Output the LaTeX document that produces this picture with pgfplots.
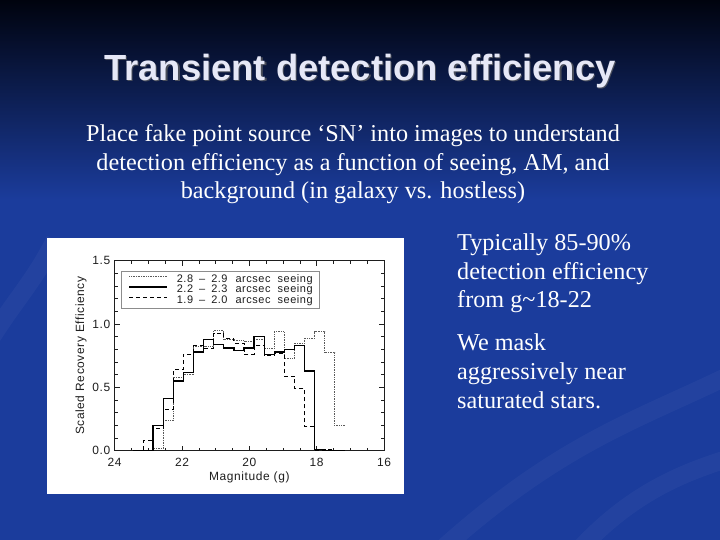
\documentclass[border=0pt]{standalone}
\usepackage{fontspec}
\setmainfont{Liberation Serif}
\newfontfamily\sansf{Liberation Sans}
\newfontfamily\plotf[LetterSpace=5]{Liberation Sans}
\usepackage{pgfplots}
\pgfplotsset{compat=1.18}
\definecolor{bgblue}{HTML}{1B3C9C}
\definecolor{bgtop}{HTML}{00030E}
\definecolor{titlecol}{HTML}{E6E8F7}
\definecolor{ink}{HTML}{1E1E1E}

\begin{document}
\begin{tikzpicture}
\useasboundingbox (0,0) rectangle (720bp,-540bp);
\shade[top color=bgtop, bottom color=bgblue] (0,0) rectangle (720bp,-200bp);
\fill[bgblue] (0,-200bp) rectangle (720bp,-540bp);
% subtle swirls
\begin{scope}
\clip (0,0) rectangle (720bp,-540bp);
\begin{scope}[white, opacity=0.035, line width=18bp]
\draw (430bp,-560bp) .. controls (560bp,-440bp) and (640bp,-420bp) .. (740bp,-370bp);
\draw (570bp,-560bp) .. controls (630bp,-490bp) and (690bp,-470bp) .. (740bp,-455bp);
\draw (-10bp,-340bp) .. controls (15bp,-300bp) and (35bp,-280bp) .. (55bp,-240bp);
\end{scope}
\end{scope}

% title
\node[anchor=base, text=black!60, opacity=0.7, font=\sansf\bfseries\fontsize{36.5}{43}\selectfont] at (361.2bp,-81.2bp) {Transient detection efficiency};
\node[anchor=base, text=titlecol, font=\sansf\bfseries\fontsize{36.5}{43}\selectfont] at (360bp,-80bp) {Transient detection efficiency};

% body text
\begin{scope}[every node/.style={anchor=base, text=white, font=\fontsize{24.3}{29}\selectfont, inner sep=0pt}]
\node at (353bp,-141bp) {Place fake point source ‘SN’ into images to understand};
\node at (353bp,-170bp) {detection efficiency as a function of seeing, AM, and};
\node at (353bp,-198bp) {background (in galaxy vs. hostless)};
\end{scope}
\begin{scope}[every node/.style={anchor=base west, text=white, font=\fontsize{24.3}{29}\selectfont, inner sep=0pt}]
\node at (457bp,-250bp) {Typically 85-90\%};
\node at (457bp,-279bp) {detection efficiency};
\node at (457bp,-307bp) {from g\char`\~18-22};
\node at (457bp,-350bp) {We mask};
\node at (457bp,-379bp) {aggressively near};
\node at (457bp,-408bp) {saturated stars.};
\end{scope}

% white panel
\fill[white] (47bp,-238bp) rectangle (404bp,-494bp);

\begin{axis}[
  at={(114.7bp,-450.7bp)}, anchor=south west,
  scale only axis, width=269.3bp, height=190bp,
  x dir=reverse, xmin=16, xmax=24, ymin=0, ymax=1.5,
  xtick={16,18,20,22,24}, ytick={0,0.5,1.0,1.5},
  minor x tick num=3, minor y tick num=4,
  tick align=inside,
  major tick length=5bp, minor tick length=3bp,
  every tick/.style={ink, line width=0.6pt},
  axis line style={ink, line width=0.8pt},
  /pgf/number format/assume math mode=true,
  yticklabel style={xshift=-1bp, /pgf/number format/.cd, fixed, fixed zerofill, precision=1},
  ticklabel style={font=\plotf\fontsize{12}{13}\selectfont, text=ink},
  xticklabel style={yshift=-4bp},
  xlabel={Magnitude (g)}, ylabel={Scaled Recovery Efficiency},
  label style={font=\plotf\fontsize{12}{13}\selectfont, text=ink},
  xlabel style={at={(axis description cs:0.5,-0.138)}, anchor=center},
  ylabel style={at={(axis description cs:-0.125,0.5)}, anchor=center, rotate=0},
  legend image code/.code={\draw[#1] (0bp,3bp) -- (38bp,3bp);},
  legend cell align=left,
  legend style={at={(0.0245,0.944)}, anchor=north west, draw=black!45, line width=0.5pt,
    fill=white, inner xsep=7bp, inner ysep=3bp, row sep=0bp, column sep=9bp,
    font=\plotf\fontsize{11}{11}\selectfont, text=ink,
    nodes={inner sep=0bp, text height=8bp, text depth=2.3bp}},
]
\addplot[const plot, black!65, densely dotted, line width=0.7pt] coordinates {
(17.16,0.20) (17.46,0.78) (17.76,0.94) (18.06,0.89) (18.36,0.85) (18.66,0.73)
(18.96,0.94) (19.26,0.81) (19.56,0.88) (19.86,0.86) (20.16,0.87) (20.46,0.88)
(20.76,0.95) (21.06,0.82) (21.36,0.82) (21.66,0.60) (21.96,0.58) (22.26,0.24)
(22.56,0.015) (22.86,0) (23.16,0) (23.46,0)
};
\addlegendentry{2.8\hspace{6bp}–\hspace{6bp}2.9\hspace{8bp}arcsec\hspace{7bp}seeing}
\addplot[const plot, black, line width=1.3pt] coordinates {
(17.16,0) (17.46,0) (17.76,0.01) (18.06,0.63) (18.36,0.83) (18.66,0.80)
(18.96,0.78) (19.26,0.76) (19.56,0.90) (19.86,0.81) (20.16,0.79) (20.46,0.81)
(20.76,0.84) (21.06,0.88) (21.36,0.78) (21.66,0.62) (21.96,0.55) (22.26,0.41)
(22.56,0.20) (22.86,0) (23.16,0) (23.46,0)
};
\addlegendentry{2.2\hspace{6bp}–\hspace{6bp}2.3\hspace{8bp}arcsec\hspace{7bp}seeing}
\addplot[const plot, black, dash pattern=on 4bp off 3bp, line width=0.8pt] coordinates {
(17.16,0) (17.46,0.01) (17.76,0.005) (18.06,0.19) (18.36,0.49) (18.66,0.59)
(18.96,0.77) (19.26,0.75) (19.56,0.83) (19.86,0.76) (20.16,0.85) (20.46,0.89)
(20.76,0.93) (21.06,0.81) (21.36,0.83) (21.66,0.76) (21.96,0.64) (22.26,0.33)
(22.56,0.18) (22.86,0.08) (23.16,0.005) (23.46,0.005)
};
\addlegendentry{1.9\hspace{6bp}–\hspace{6bp}2.0\hspace{8bp}arcsec\hspace{7bp}seeing}
\end{axis}
\end{tikzpicture}
\end{document}
